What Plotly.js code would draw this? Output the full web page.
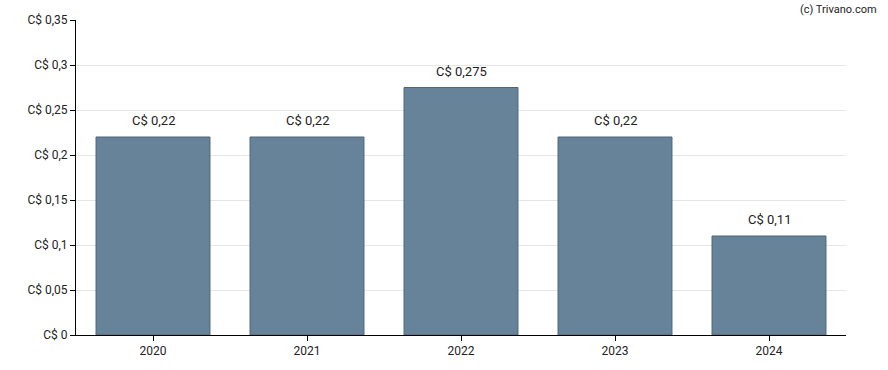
<!DOCTYPE html>
<html>
<head>
<meta charset="utf-8">
<script src="https://cdn.plot.ly/plotly-3.0.1.min.js"></script>
<style>html,body{margin:0;padding:0;background:#fff;}#chart{width:888px;height:370px;}</style>
</head>
<body>
<div id="chart"></div>
<script>
const years = ["2020", "2021", "2022", "2023", "2024"];
const dividends = [0.22, 0.22, 0.275, 0.22, 0.11];
const valueLabels = ["C$ 0,22", "C$ 0,22", "C$ 0,275", "C$ 0,22", "C$ 0,11"];
const yTickVals = [0, 0.05, 0.1, 0.15, 0.2, 0.25, 0.3, 0.35];
const yTickText = ["C$ 0", "C$ 0,05", "C$ 0,1", "C$ 0,15", "C$ 0,2", "C$ 0,25", "C$ 0,3", "C$ 0,35"];

const font = {family: "Roboto, Arial, sans-serif", size: 12, color: "#222"};

const trace = {
  type: "bar",
  x: years,
  y: dividends,
  width: 0.74,
  marker: {color: "#67839a", line: {color: "#4d667a", width: 1}},
  hoverinfo: "none"
};

const annotations = years.map((yr, i) => ({
  x: i, y: dividends[i], xref: "x", yref: "y",
  text: valueLabels[i], showarrow: false,
  yanchor: "bottom", yshift: 7,
  font: {family: font.family, size: 13, color: "#222"}
}));
annotations.push({
  xref: "paper", yref: "paper", x: 1.043, y: 1.0, xanchor: "right", yanchor: "bottom", yshift: 2,
  text: "(c) Trivano.com", showarrow: false,
  font: {family: font.family, size: 11, color: "#222"}
});

const layout = {
  width: 888, height: 370,
  margin: {l: 76, r: 42, t: 20, b: 35},
  paper_bgcolor: "#fff", plot_bgcolor: "#fff",
  font: font,
  showlegend: false,
  xaxis: {
    type: "category",
    range: [-0.5, years.length - 0.5],
    showline: true, linecolor: "#000", linewidth: 1,
    ticks: "outside", ticklen: 5, tickcolor: "#000",
    showgrid: false, tickfont: {size: 12}, fixedrange: true
  },
  yaxis: {
    range: [0, 0.35],
    tickvals: yTickVals, ticktext: yTickText,
    showline: true, linecolor: "#000", linewidth: 1,
    ticks: "outside", ticklen: 5, tickcolor: "#000",
    showgrid: true, gridcolor: "#e6e6e6", gridwidth: 1,
    zeroline: false, tickfont: {size: 12}, fixedrange: true
  },
  annotations: annotations
};

Plotly.newPlot("chart", [trace], layout, {displayModeBar: false, staticPlot: true});
</script>
</body>
</html>
